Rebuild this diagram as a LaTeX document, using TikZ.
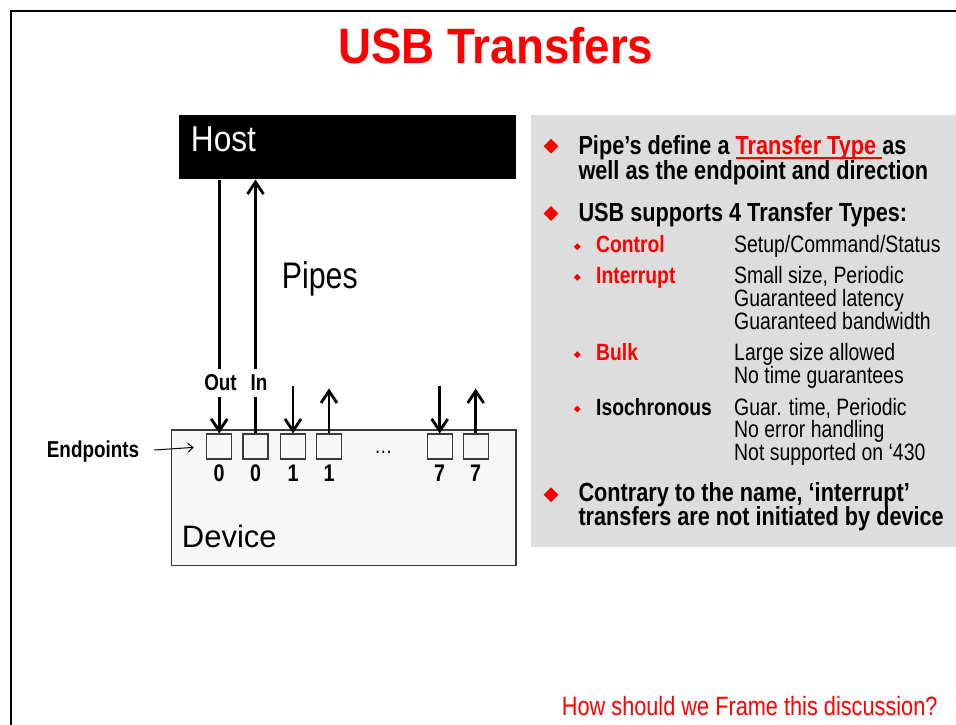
\documentclass[tikz,border=0pt]{standalone}
\usepackage{fontspec}
\setmainfont[FakeStretch=0.82]{Liberation Sans}
\newfontfamily\titlefont[FakeStretch=0.92]{Liberation Sans}
\newfontfamily\widefont{Liberation Sans}
\newfontfamily\hostfont[FakeStretch=0.88]{Liberation Sans}
\newfontfamily\bulletfont[FakeStretch=0.828]{Liberation Sans}
\usetikzlibrary{arrows.meta,shapes.geometric}
\definecolor{pptred}{HTML}{FF0000}
\definecolor{panelgray}{HTML}{DDDDDD}
\definecolor{devfill}{HTML}{F7F7F7}
\definecolor{edgegray}{HTML}{3A3A3A}
\newcommand{\redul}[1]{{\color{pptred}\setbox0\hbox{#1}\rlap{\rule[-4.2pt]{\wd0}{1.6pt}}\box0}}
\begin{document}
\begin{tikzpicture}[x=1pt,y=-1pt,
  fs/.style={font=\fontsize{#1}{#1}\selectfont},
  titlestyle/.style={anchor=base, inner sep=0, text=pptred, font=\titlefont\fontsize{49.7}{49.7}\selectfont\bfseries},
  hostbox/.style={draw=none, fill=black, minimum width=336.7pt, minimum height=64.3pt, inner sep=0},
  devbox/.style={draw=edgegray, line width=1.2pt, fill=devfill, minimum width=344.3pt, minimum height=135.7pt, inner sep=0},
  epbox/.style={draw=edgegray, line width=1.1pt, fill=devfill, minimum size=25pt, inner sep=0},
  panelbox/.style={fill=panelgray, draw=none, inner sep=0, anchor=north west, minimum width=440pt, minimum height=431.7pt},
  pipe/.style={line width=2.8pt, -{Straight Barb[length=12pt,width=16pt]}},
  thinarrow/.style={line width=1pt, -{Straight Barb[length=5pt,width=9pt]}},
  pipelbl/.style={anchor=base, fill=white, inner xsep=1pt, inner ysep=6pt, text height=16pt, text depth=0pt, font=\fontsize{23}{23}\selectfont\bfseries},
  num/.style={anchor=base, inner sep=0, font=\fontsize{24}{24}\selectfont\bfseries},
  btext/.style={anchor=base west, inner sep=0, font=\bulletfont\fontsize{26.2}{26.2}\selectfont\bfseries},
  sublbl/.style={anchor=base west, inner sep=0, font=\fontsize{23.5}{23.5}\selectfont\bfseries},
  subdesc/.style={anchor=base west, inner sep=0, font=\fontsize{23.7}{23.7}\selectfont},
  bigdia/.style={diamond, aspect=1, fill=pptred, inner sep=0, minimum width=15pt, minimum height=15pt},
  smalldia/.style={diamond, aspect=1, fill=pptred, inner sep=0, minimum width=7pt, minimum height=7pt}
]
\useasboundingbox (0,0) rectangle (956,724);
\fill[white] (0,0) rectangle (956,724);
\draw[line width=2.2pt] (11,11) rectangle (990,760);

% title
\node[titlestyle] (title) at (495.8,63.3) {USB Transfers};

% host
\node[hostbox] (host) at (347.65,147.15) {};
\node[anchor=base west, inner sep=0, text=white, font=\hostfont\fontsize{36}{36}\selectfont] (hostlbl) at (190.7,151.7) {Host};

% pipes label
\node[anchor=base west, inner sep=0, fs=37] (pipeslbl) at (281.7,288.3) {Pipes};

% device
\node[devbox] (device) at (343.85,497.85) {};
\node[anchor=base west, inner sep=0, font=\widefont\fontsize{31}{31}\selectfont] (devlbl) at (181.7,547.7) {Device};

% endpoints
\node[epbox] (ep0o) at (219.2,446.5) {};
\node[epbox] (ep0i) at (255.5,446.5) {};
\node[epbox] (ep1o) at (293.0,446.5) {};
\node[epbox] (ep1i) at (329.0,446.5) {};
\node[epbox] (ep7o) at (439.7,446.5) {};
\node[epbox] (ep7i) at (475.7,446.5) {};
\node[anchor=base, inner sep=0, fs=22] (dots) at (383.5,453) {…};

\node[num] (n0o) at (219.2,481.7) {0};
\node[num] (n0i) at (255.5,481.7) {0};
\node[num] (n1o) at (293.0,481.7) {1};
\node[num] (n1i) at (329.0,481.7) {1};
\node[num] (n7o) at (439.7,481.7) {7};
\node[num] (n7i) at (475.7,481.7) {7};

% endpoints label
\node[anchor=base west, inner sep=0, font=\fontsize{23}{23}\selectfont\bfseries] (endp) at (46.7,457) {Endpoints};
\draw[thinarrow, shorten <=15pt, shorten >=12.5pt] (endp.east) -- (ep0o.west);

% pipes
\draw[pipe] (host.south -| ep0o.north) -- (ep0o.north);
\draw[pipe] (ep0i.north) -- (host.south -| ep0i.north);
\coordinate (f1o) at ([yshift=47pt]ep1o.north);
\coordinate (f1i) at ([yshift=45pt]ep1i.north);
\coordinate (f7o) at ([yshift=47pt]ep7o.north);
\coordinate (f7i) at ([yshift=45pt]ep7i.north);
\draw[pipe] (f1o) -- (ep1o.north);
\draw[pipe] (ep1i.north) -- (f1i);
\draw[pipe] (f7o) -- (ep7o.north);
\draw[pipe] (ep7i.north) -- (f7i);
\node[pipelbl] (outlbl) at (220.5,390.7) {Out};
\node[pipelbl] (inlbl) at (259.0,390.7) {In};

% panel
\node[panelbox] (panel) at (531,115) {};

\node[bigdia] (d1) at (551,146.3) {};
\node[btext] (b1a) at (578.3,154.3) {Pipe’s define a \redul{Transfer Type }as};
\node[btext] (b1b) at (578.3,179.3) {well as the endpoint and direction};

\node[bigdia] (d2) at (551,213.5) {};
\node[btext] (b2) at (578.3,221) {USB supports 4 Transfer Types:};

\node[smalldia] (s1) at (577.3,246.7) {};
\node[sublbl, text=pptred] (ctl) at (596,252.7) {Control};
\node[subdesc] (ctld) at (734,252.7) {Setup/Command/Status};

\node[smalldia] (s2) at (577.3,277.3) {};
\node[sublbl, text=pptred] (intr) at (596,283.3) {Interrupt};
\node[subdesc] (intd1) at (734,283.3) {Small size, Periodic};
\node[subdesc] (intd2) at (734,306.7) {Guaranteed latency};
\node[subdesc] (intd3) at (734,329) {Guaranteed bandwidth};

\node[smalldia] (s3) at (577.3,354.7) {};
\node[sublbl, text=pptred] (bulk) at (596,360.7) {Bulk};
\node[subdesc] (bulkd1) at (734,360.7) {Large size allowed};
\node[subdesc] (bulkd2) at (734,383.3) {No time guarantees};

\node[smalldia] (s4) at (577.3,409) {};
\node[sublbl] (iso) at (596,415) {Isochronous};
\node[subdesc] (isod1) at (734,415) {Guar. time, Periodic};
\node[subdesc] (isod2) at (734,437.3) {No error handling};
\node[subdesc] (isod3) at (734,460) {Not supported on ‘430};

\node[bigdia] (d3) at (551,494.7) {};
\node[btext] (b3a) at (578.3,501.7) {Contrary to the name, ‘interrupt’};
\node[btext] (b3b) at (578.3,525) {transfers are not initiated by device};

% bottom question
\node[anchor=base west, inner sep=0, text=pptred, fs=26.5] (question) at (561.7,715) {How should we Frame this discussion?};
\end{tikzpicture}
\end{document}
